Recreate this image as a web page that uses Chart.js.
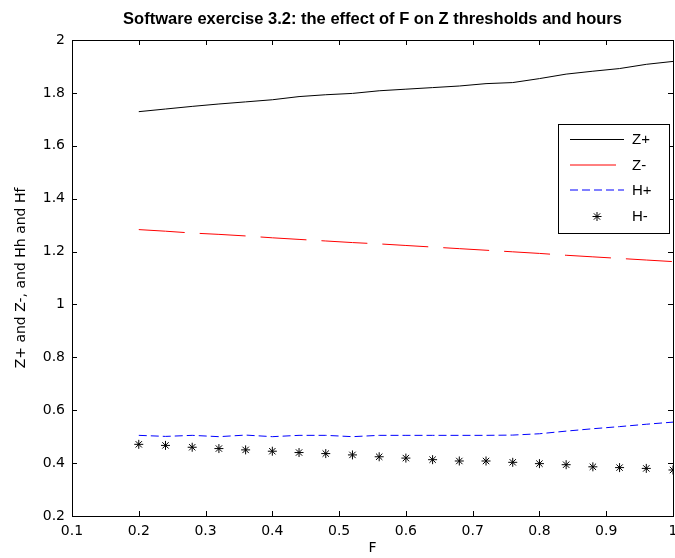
<!DOCTYPE html>
<html>
<head>
<meta charset="utf-8">
<script src="https://cdn.jsdelivr.net/npm/chart.js@4"></script>
<style>
  html, body { margin: 0; padding: 0; background: #fff; }
  #grafico { display: block; }
</style>
</head>
<body>
<canvas id="grafico" width="675" height="558"></canvas>
<script>
// valores
const valoresF = [0.2, 0.24, 0.28, 0.32, 0.36, 0.4, 0.44, 0.48, 0.52, 0.56, 0.6, 0.64, 0.68, 0.72, 0.76, 0.8, 0.84, 0.88, 0.92, 0.96, 1.0];
const zMais = [1.729, 1.739, 1.749, 1.758, 1.766, 1.774, 1.786, 1.793, 1.798, 1.808, 1.814, 1.820, 1.826, 1.835, 1.839, 1.854, 1.871, 1.882, 1.892, 1.908, 1.919];
const zMenos = [1.283, 1.277, 1.270, 1.265, 1.259, 1.252, 1.246, 1.240, 1.234, 1.229, 1.223, 1.217, 1.211, 1.205, 1.199, 1.193, 1.186, 1.180, 1.174, 1.168, 1.162];
const hMais = [0.505, 0.501, 0.505, 0.500, 0.506, 0.500, 0.505, 0.505, 0.500, 0.505, 0.505, 0.505, 0.505, 0.505, 0.506, 0.511, 0.521, 0.530, 0.538, 0.547, 0.555];
const hMenos = [0.471, 0.467, 0.460, 0.455, 0.450, 0.445, 0.440, 0.436, 0.431, 0.424, 0.419, 0.413, 0.408, 0.408, 0.403, 0.398, 0.394, 0.386, 0.383, 0.380, 0.374];
const rotulos = ['Z+', 'Z-', 'H+', 'H-'];

const fonteTitulo = "'Liberation Sans', Arial, Helvetica, sans-serif";
const fonteEixos = "'DejaVu Sans', sans-serif";

function pontos(valores) {
    return valores.map((v, i) => ({ x: valoresF[i], y: v }));
}

// moldura, marcas de escala para dentro e legenda no estilo MATLAB
const molduraPlugin = {
    id: 'moldura',
    afterDraw(chart) {
        const { ctx, chartArea: a, scales } = chart;
        ctx.save();
        ctx.strokeStyle = '#000';
        ctx.lineWidth = 1;
        ctx.setLineDash([]);
        ctx.strokeRect(Math.round(a.left) + 0.5, Math.round(a.top) + 0.5, Math.round(a.right - a.left), Math.round(a.bottom - a.top));

        const tam = 5;
        ctx.beginPath();
        scales.x.ticks.forEach(t => {
            const px = Math.round(scales.x.getPixelForValue(t.value)) + 0.5;
            ctx.moveTo(px, a.bottom); ctx.lineTo(px, a.bottom - tam);
            ctx.moveTo(px, a.top); ctx.lineTo(px, a.top + tam);
        });
        scales.y.ticks.forEach(t => {
            const py = Math.round(scales.y.getPixelForValue(t.value)) + 0.5;
            ctx.moveTo(a.left, py); ctx.lineTo(a.left + tam, py);
            ctx.moveTo(a.right, py); ctx.lineTo(a.right - tam, py);
        });
        ctx.stroke();

        // legenda
        const lx = Math.round(a.right) - 115, ly = Math.round(a.top) + 84, lw = 111, lh = 109;
        ctx.fillStyle = '#fff';
        ctx.fillRect(lx, ly, lw, lh);
        ctx.strokeRect(lx + 0.5, ly + 0.5, lw, lh);
        ctx.font = '15px ' + fonteTitulo;
        ctx.textBaseline = 'middle';
        ctx.textAlign = 'left';
        chart.data.datasets.forEach((ds, i) => {
            const opts = chart.getDatasetMeta(i).dataset.options;
            const yTexto = Math.round(ly + 15 + i * 25.7) + 0.5;
            const x0 = lx + 12, x1 = lx + 66;
            if (ds.showLine === false) {
                Chart.helpers.drawPoint(ctx, {
                    pointStyle: ds.pointStyle, radius: ds.pointRadius, borderWidth: 1
                }, (x0 + x1) / 2, yTexto);
            } else {
                // linhas tracejadas ficam suavizadas como no original
                const y = ds.borderDash ? yTexto - 0.5 : yTexto;
                ctx.save();
                ctx.beginPath();
                ctx.lineWidth = 1;
                ctx.strokeStyle = opts.borderColor;
                ctx.setLineDash(opts.borderDash || []);
                ctx.moveTo(x0, y); ctx.lineTo(x1, y);
                ctx.stroke();
                ctx.restore();
            }
            ctx.fillStyle = '#000';
            ctx.fillText(ds.label, lx + 74, yTexto);
        });
        ctx.restore();
    }
};

const ctx = document.getElementById('grafico').getContext('2d');
new Chart(ctx, {
    type: 'line',
    data: {
        datasets: [{
            label: rotulos[0],
            data: pontos(zMais),
            borderColor: '#000000',
            borderWidth: 1,
            pointRadius: 0
        }, {
            label: rotulos[1],
            data: pontos(zMenos),
            borderColor: '#ff0000',
            borderWidth: 1,
            borderDash: [46, 15],
            pointRadius: 0
        }, {
            label: rotulos[2],
            data: pontos(hMais),
            borderColor: '#0000ff',
            borderWidth: 1,
            borderDash: [8, 4],
            pointRadius: 0
        }, {
            label: rotulos[3],
            data: pontos(hMenos),
            showLine: false,
            borderColor: '#000000',
            backgroundColor: '#000000',
            borderWidth: 1,
            pointStyle: 'star',
            pointRadius: 4.5
        }]
    },
    options: {
        responsive: false,
        animation: false,
        devicePixelRatio: 1,
        layout: { padding: { left: 0, top: 0, bottom: 0, right: 2 }, autoPadding: false },
        plugins: {
            legend: { display: false },
            tooltip: { enabled: false },
            title: {
                display: true,
                fullSize: false,
                text: 'Software exercise 3.2: the effect of F on Z thresholds and hours',
                color: '#000',
                font: { family: fonteTitulo, size: 16.5, weight: 'bold' },
                padding: { top: 10, bottom: 10.2 }
            }
        },
        scales: {
            x: {
                type: 'linear',
                min: 0.1,
                max: 1,
                grid: { display: false, drawTicks: false },
                border: { display: false },
                ticks: {
                    stepSize: 0.1,
                    color: '#000',
                    padding: 7,
                    maxRotation: 0,
                    font: { family: fonteEixos, size: 14 },
                    callback: v => String(Math.round(v * 10) / 10)
                },
                title: {
                    display: true,
                    text: 'F',
                    color: '#000',
                    font: { family: fonteEixos, size: 14 },
                    padding: { top: 1, bottom: 1 }
                },
                afterFit: s => { s.height = 42; s.paddingRight = 0; s.paddingLeft = 0; }
            },
            y: {
                min: 0.2,
                max: 2,
                grid: { display: false, drawTicks: false },
                border: { display: false },
                ticks: {
                    stepSize: 0.2,
                    color: '#000',
                    padding: 7,
                    font: { family: fonteEixos, size: 14 },
                    callback: v => String(Math.round(v * 10) / 10)
                },
                title: {
                    display: true,
                    text: 'Z+ and Z-, and Hh and Hf',
                    color: '#000',
                    font: { family: fonteEixos, size: 14 },
                    padding: { top: 13, bottom: 4 }
                },
                afterFit: s => { s.width = 72; s.paddingTop = 0; s.paddingBottom = 0; }
            }
        }
    },
    plugins: [molduraPlugin]
});
</script>
</body>
</html>
